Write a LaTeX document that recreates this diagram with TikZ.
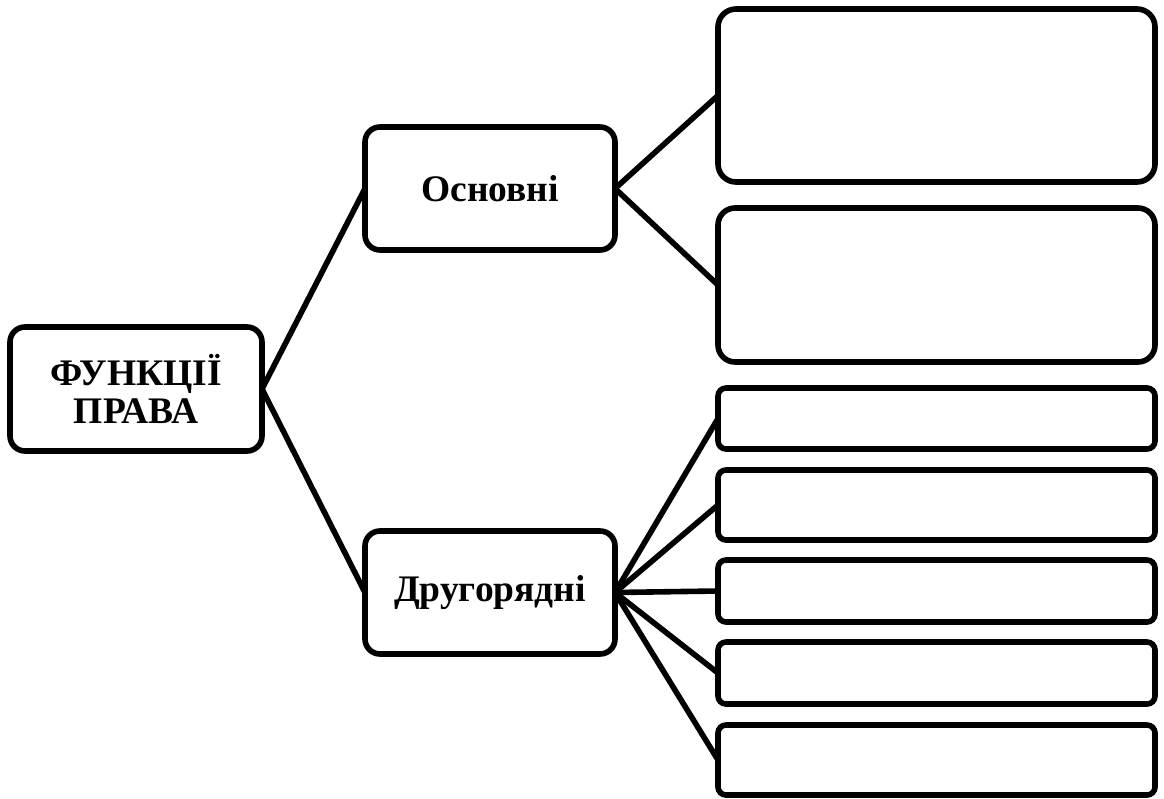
\documentclass[tikz,border=0pt]{standalone}
\usepackage{fontspec}
\setmainfont{Liberation Serif}
\begin{document}
\begin{tikzpicture}[x=1pt,y=-1pt,
  box/.style={draw=black,line width=5.6pt,fill=white,inner sep=0pt,outer sep=0pt,
    font=\fontsize{37.5}{38}\selectfont\bfseries,align=center},
  conn/.style={draw=black,line width=5.6pt}]
\useasboundingbox (0,0) rectangle (1164,798);
\fill[white] (0,0) rectangle (1164,798);
\node[box,rounded corners=15pt,minimum width=252pt,minimum height=124pt] (root) at (136,389) {ФУНКЦІЇ\\ПРАВА};
\node[box,rounded corners=15pt,minimum width=250pt,minimum height=123pt] (osn) at (490,188.5) {Основні};
\node[box,rounded corners=15pt,minimum width=250pt,minimum height=123pt] (dr) at (490,592.5) {Другорядні};
\node[box,rounded corners=18pt,minimum width=437pt,minimum height=173pt] (b1) at (936.5,95.5) {};
\node[box,rounded corners=17pt,minimum width=437pt,minimum height=154pt] (b2) at (936.5,285) {};
\node[box,rounded corners=8pt,minimum width=437pt,minimum height=61pt] (b3) at (936.5,418.5) {};
\node[box,rounded corners=8pt,minimum width=437pt,minimum height=70pt] (b4) at (936.5,505) {};
\node[box,rounded corners=8pt,minimum width=437pt,minimum height=62pt] (b5) at (936.5,591) {};
\node[box,rounded corners=8pt,minimum width=437pt,minimum height=62pt] (b6) at (936.5,673) {};
\node[box,rounded corners=8pt,minimum width=437pt,minimum height=70pt] (b7) at (936.5,760) {};
\draw[conn] (root.east) -- (osn.west);
\draw[conn] (root.east) -- (dr.west);
\draw[conn] (osn.east) -- (b1.west);
\draw[conn] (osn.east) -- (b2.west);
\foreach \b in {b3,b4,b5,b6,b7}{\draw[conn] (dr.east) -- (\b.west);}
\end{tikzpicture}
\end{document}
